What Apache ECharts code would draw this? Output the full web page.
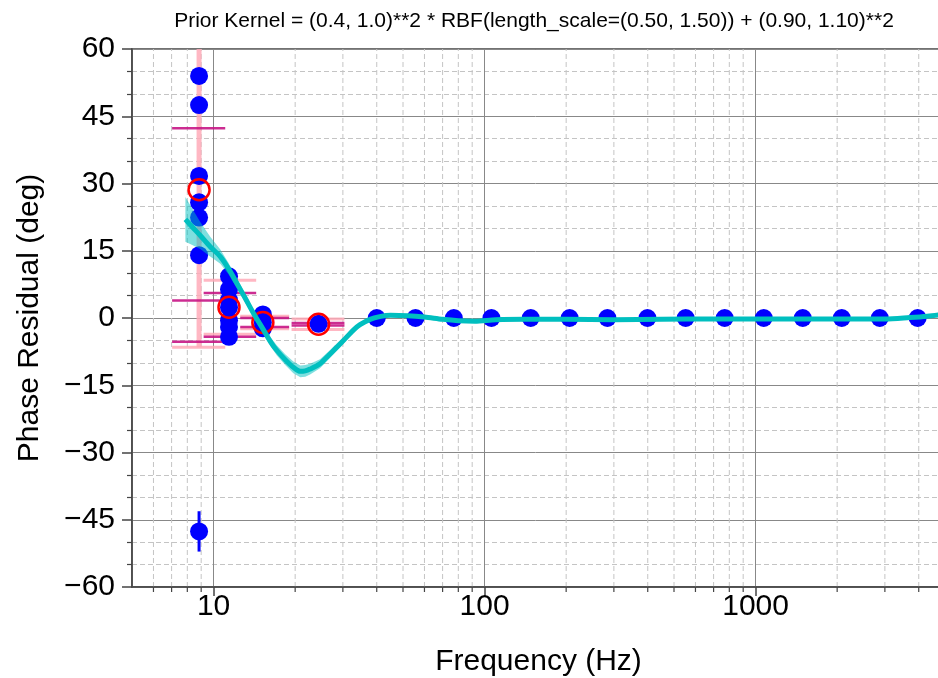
<!DOCTYPE html>
<html><head><meta charset="utf-8">
<script src="https://cdn.jsdelivr.net/npm/echarts@6/dist/echarts.min.js"></script>
<style>html,body{margin:0;padding:0;background:#fff;overflow:hidden}#c{width:938px;height:678px}</style>
</head><body><div id="c"></div>
<script>
// measured data (blue)
const dataFreq = [8.84,8.84,8.84,8.84,8.84,8.84,8.84,
  11.4,11.4,11.4,11.4,11.4,11.4,11.4,
  15.2,15.2,15.2, 24.4,
  40,55.6,77,106,148,206,284,399,552,769,1072,1493,2080,2873,3963];
const dataPhase = [54.0,47.5,31.7,25.8,22.4,14.0,-47.6,
  9.3,6.4,4.0,2.4,-0.5,-2.0,-4.2,
  0.8,-1.0,-2.3, -1.3,
  0,0,0,0,0,0,0,0,0,0,0,0,0,0,0];
const dataErr = [1.5,1.5,1.5,1.5,1.5,1.5,4.5,
  1,1,1,1,1,1,1,
  0.8,0.8,0.8, 0.8,
  0.3,0.3,0.3,0.3,0.3,0.3,0.3,0.3,0.3,0.3,0.3,0.3,0.3,0.3,0.3];
// binned means (red) with spreads
const binFreq = [8.84, 11.4, 15.2, 24.4];
const binMean = [28.6, 2.4, -1.0, -1.4];
const binStd = [35.1, 6.0, 1.4, 1.15];
const binFreqLo = [7.03, 9.19, 12.54, 19.4];
const binFreqHi = [11.04, 14.36, 19.0, 30.4];
const binMarks = [[42.3, 3.9, -5.3], [5.6, -4.2], [0.0, -2.0], [-1.1, -1.7]];
// GP fit (cyan)
const fitFreq = [7.87,8.38,8.93,9.72,10.59,11.33,12.2,13.09,14.05,15.3,16.18,17.1,18.38,19.7,20.9,21.8,22.7,24.7,26.5,28.5,30.6,32.8,34.7,37.8,41,45,52,60,70,80,92,110,140,200,300,450,700,1100,1800,3000,3700,4300,5000];
const fitPhase = [22.0,20.2,18.4,15.9,13.7,11.1,7.7,4.4,1.0,-2.7,-5.2,-7.2,-9.3,-11.0,-11.9,-11.8,-11.4,-10.2,-8.4,-6.5,-4.6,-2.7,-1.5,-0.3,0.3,0.6,0.5,0.2,-0.3,-0.6,-0.7,-0.4,-0.3,-0.3,-0.4,-0.3,-0.2,-0.2,-0.2,-0.2,0.1,0.4,0.9];
const fitHalf = [5.0,4.0,3.0,2.2,1.6,1.3,1.1,1.0,0.9,0.9,1.0,1.1,1.2,1.3,1.3,1.3,1.2,1.0,0.9,0.8,0.7,0.6,0.5,0.4,0.3,0.3,0.3,0.3,0.3,0.3,0.3,0.3,0.3,0.3,0.3,0.3,0.3,0.3,0.3,0.3,0.3,0.3,0.3];
// axes
const xMajorLabels = [10, 100, 1000];
const xMinor = [6,7,8,9,20,30,40,50,60,70,80,90,200,300,400,500,600,700,800,900,2000,3000,4000];
const yMin = -60, yMax = 60, yStep = 15;
const titleText = 'Prior Kernel = (0.4, 1.0)**2 * RBF(length_scale=(0.50, 1.50)) + (0.90, 1.10)**2';

const FONT = 'Liberation Sans';
const chart = echarts.init(document.getElementById('c'), null, {renderer: 'canvas'});

const scatterData = dataFreq.map((f, i) => [f, dataPhase[i]]);
const blueErr = dataFreq.map((f, i) => [f, dataPhase[i] - dataErr[i], dataPhase[i] + dataErr[i]]);
const pinkV = binFreq.map((f, i) => [f, binMean[i] - binStd[i], binMean[i] + binStd[i]]);
const pinkH = [];
binFreq.forEach((f, i) => {
  pinkH.push([binFreqLo[i], binMean[i] - binStd[i], binFreqHi[i]]);
  pinkH.push([binFreqLo[i], binMean[i] + binStd[i], binFreqHi[i]]);
});
const magH = [];
binMarks.forEach((arr, i) => arr.forEach(v => magH.push([binFreqLo[i], v, binFreqHi[i]])));

function vSeg(color, width, z) {
  return {
    type: 'custom', clip: true, z: z, silent: true,
    renderItem: (p, api) => {
      const a = api.coord([api.value(0), api.value(1)]);
      const b = api.coord([api.value(0), api.value(2)]);
      return {type: 'line', shape: {x1: a[0], y1: a[1], x2: b[0], y2: b[1]}, style: {stroke: color, lineWidth: width}};
    }
  };
}
function hSeg(color, width, z) {
  return {
    type: 'custom', clip: true, z: z, silent: true,
    renderItem: (p, api) => {
      const a = api.coord([api.value(0), api.value(1)]);
      const b = api.coord([api.value(2), api.value(1)]);
      return {type: 'line', shape: {x1: a[0], y1: a[1], x2: b[0], y2: b[1]}, style: {stroke: color, lineWidth: width}};
    }
  };
}

const option = {
  animation: false,
  backgroundColor: '#fff',
  graphic: [{type: 'text', x: 534, y: 21, style: {text: titleText, font: '21px "' + FONT + '"', fill: '#000', textAlign: 'center', textVerticalAlign: 'middle'}}],
  grid: {left: 132, top: 49, width: 813, height: 538, outerBoundsMode: 'none', containLabel: false,
    show: true, borderColor: '#444', borderWidth: 1.5, backgroundColor: 'transparent'},
  xAxis: {
    type: 'log', logBase: 10, min: 5, max: 5000,
    name: 'Frequency (Hz)', nameLocation: 'middle', nameGap: 60,
    nameTextStyle: {fontFamily: FONT, fontSize: 30, color: '#000'},
    axisLine: {show: true, onZero: false, lineStyle: {color: '#444', width: 1.5}},
    axisTick: {show: true, length: 9, lineStyle: {color: '#444', width: 1.5}},
    axisLabel: {show: true, margin: 5, fontFamily: FONT, fontSize: 30, color: '#000', showMinLabel: false, showMaxLabel: false,
      formatter: v => { const r = Math.round(v); return xMajorLabels.indexOf(r) >= 0 ? String(r) : ''; }},
    splitLine: {show: true, lineStyle: {color: '#888', width: 1}},
    minorTick: {show: false}, minorSplitLine: {show: false}
  },
  yAxis: {
    type: 'value', min: yMin, max: yMax, interval: yStep,
    name: 'Phase Residual (deg)', nameLocation: 'middle', nameGap: 87, nameRotate: 90,
    nameTextStyle: {fontFamily: FONT, fontSize: 30, color: '#000'},
    axisLine: {show: true, lineStyle: {color: '#444', width: 1.5}},
    axisTick: {show: true, length: 10, lineStyle: {color: '#444', width: 1.5}},
    minorTick: {show: true, splitNumber: 3, length: 5, lineStyle: {color: '#444', width: 1.2}},
    axisLabel: {margin: 17, fontFamily: FONT, fontSize: 30, color: '#000',
      formatter: v => v < 0 ? '\u2212' + Math.abs(v) : String(v)},
    splitLine: {show: true, lineStyle: {color: '#888', width: 1}},
    minorSplitLine: {show: true, lineStyle: {color: '#c4c4c4', width: 1, type: [5, 3]}}
  },
  series: [
    { // minor x grid lines
      type: 'custom', clip: true, z: 0, silent: true,
      data: xMinor.map(f => [f, 0]),
      renderItem: (p, api) => {
        const a = api.coord([api.value(0), yMin]);
        const b = api.coord([api.value(0), yMax]);
        return {type: 'line', shape: {x1: a[0], y1: a[1], x2: b[0], y2: b[1]}, style: {stroke: '#c4c4c4', lineWidth: 1, lineDash: [5, 3]}};
      }
    },
    { // minor x ticks
      type: 'custom', clip: false, z: 3, silent: true,
      data: xMinor.map(f => [f, yMin]),
      renderItem: (p, api) => {
        const a = api.coord([api.value(0), yMin]);
        return {type: 'line', shape: {x1: a[0], y1: a[1], x2: a[0], y2: a[1] + 5}, style: {stroke: '#444', lineWidth: 1.2}};
      }
    },
    Object.assign(vSeg('rgba(255,170,185,0.85)', 5, 2), {data: pinkV}),
    Object.assign(hSeg('rgba(255,170,185,0.85)', 3, 2), {data: pinkH}),
    Object.assign(hSeg('rgba(199,21,133,0.9)', 2.5, 2), {data: magH}),
    Object.assign(vSeg('#0000ff', 3, 3), {data: blueErr}),
    {type: 'scatter', z: 4, data: scatterData, symbol: 'circle', symbolSize: 18, itemStyle: {color: '#0000ff', opacity: 1}, silent: true},
    {type: 'scatter', z: 5, data: binFreq.map((f, i) => [f, binMean[i]]), symbol: 'circle', symbolSize: 21,
      itemStyle: {color: 'rgba(0,0,0,0)', borderColor: '#ff0000', borderWidth: 2.5, opacity: 1}, silent: true},
    { // GP confidence band
      type: 'custom', clip: true, z: 6, silent: true,
      data: [[fitFreq[0], fitPhase[0]]],
      renderItem: (p, api) => {
        const up = fitFreq.map((f, i) => api.coord([f, fitPhase[i] + fitHalf[i]]));
        const lo = fitFreq.map((f, i) => api.coord([f, fitPhase[i] - fitHalf[i]])).reverse();
        return {type: 'polygon', shape: {points: up.concat(lo), smooth: 0}, style: {fill: 'rgba(0,191,191,0.5)'}};
      }
    },
    {type: 'line', z: 7, data: fitFreq.map((f, i) => [f, fitPhase[i]]), symbol: 'none', smooth: 0.3,
      lineStyle: {color: '#00bfbf', width: 5}, silent: true}
  ]
};
chart.setOption(option);
</script>
</body></html>
